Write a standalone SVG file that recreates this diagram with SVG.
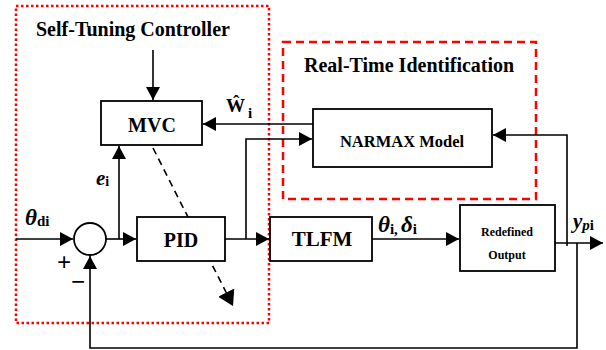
<svg xmlns="http://www.w3.org/2000/svg" width="606" height="350" viewBox="0 0 606 350">
<style>
.blk{fill:#fff;stroke:#000;stroke-width:1.8}
.ln{fill:none;stroke:#000;stroke-width:1.6}
.t{font-family:"Liberation Serif","Times New Roman",serif;font-weight:bold;fill:#000}
.it{font-family:"Liberation Serif","Times New Roman",serif;font-weight:bold;font-style:italic;fill:#000}
</style>
<defs>
<marker id="ah" viewBox="0 0 13 14" refX="13" refY="7" markerWidth="13" markerHeight="14" orient="auto" markerUnits="userSpaceOnUse"><path d="M0,0 L13,7 L0,14 z" fill="#000"/></marker>
<marker id="ah2" viewBox="0 0 15 18" refX="15" refY="9" markerWidth="15" markerHeight="18" orient="auto" markerUnits="userSpaceOnUse"><path d="M0,0 L15,9 L0,18 z" fill="#000"/></marker>
</defs>
<rect width="606" height="350" fill="#fff"/>
<g id="stc-region">
<rect x="16" y="6" width="253" height="317" fill="none" stroke="#f00" stroke-width="2.5" stroke-dasharray="2.5,2.5"/>
<text class="t" x="36" y="36" font-size="20">Self-Tuning Controller</text>
</g>
<g id="rti-region">
<rect x="283" y="42" width="253" height="157" fill="none" stroke="#f00" stroke-width="2.5" stroke-dasharray="8,5"/>
<text class="t" x="304" y="72" font-size="20">Real-Time Identification</text>
</g>
<g id="connectors">
<path class="ln" d="M153,50 V100" marker-end="url(#ah)"/>
<path class="ln" d="M313,124 H203" marker-end="url(#ah)"/>
<path class="ln" d="M246,239 V139 H312" marker-end="url(#ah)"/>
<path class="ln" d="M567,246 V135 H493" marker-end="url(#ah)"/>
<path class="ln" d="M16,239 H73" marker-end="url(#ah)"/>
<path class="ln" d="M106,239 H136" marker-end="url(#ah)"/>
<path class="ln" d="M119,239 V146" marker-end="url(#ah)"/>
<path class="ln" d="M225,239 H269" marker-end="url(#ah)"/>
<path class="ln" d="M372,239 H459" marker-end="url(#ah)"/>
<path class="ln" d="M555,243 H603" marker-end="url(#ah)"/>
<path class="ln" d="M577,243 V348 H90 V256" marker-end="url(#ah)"/>
<path class="ln" d="M153,148 L233,306" stroke-dasharray="7,5" marker-end="url(#ah2)"/>
</g>
<g id="mvc">
<rect class="blk" x="101" y="101" width="101" height="44"/>
<text class="t" x="152" y="132" font-size="20" text-anchor="middle">MVC</text>
</g>
<g id="narmax">
<rect class="blk" x="313" y="109" width="179" height="58"/>
<text class="t" x="402" y="147" font-size="16.5" text-anchor="middle">NARMAX Model</text>
</g>
<g id="sum">
<circle cx="90" cy="239" r="16" fill="#fff" stroke="#000" stroke-width="1.8"/>
<text class="t" x="64" y="271" font-size="25" text-anchor="middle">+</text>
<text class="t" x="78" y="290" font-size="25" text-anchor="middle">−</text>
</g>
<g id="pid">
<rect class="blk" x="137" y="217" width="88" height="44"/>
<text class="t" x="181" y="247" font-size="20" text-anchor="middle">PID</text>
</g>
<g id="tlfm">
<rect class="blk" x="270" y="217" width="102" height="44"/>
<text class="t" x="322" y="246" font-size="21" text-anchor="middle">TLFM</text>
</g>
<g id="redefined">
<rect class="blk" x="460" y="205" width="95" height="66"/>
<text class="t" x="507" y="236" font-size="12" text-anchor="middle">Redefined</text>
<text class="t" x="507" y="259" font-size="12" text-anchor="middle">Output</text>
</g>
<g id="labels">
<text x="25" y="225"><tspan class="it" font-size="23">θ</tspan><tspan class="t" font-size="15" dy="1">di</tspan></text>
<text x="96" y="185"><tspan class="it" font-size="21">e</tspan><tspan class="t" font-size="14" dy="1">i</tspan></text>
<text x="226" y="112"><tspan class="t" font-size="19">Ŵ</tspan><tspan class="t" font-size="15" dx="3" dy="6">i</tspan></text>
<text x="378" y="232"><tspan class="it" font-size="23">θ</tspan><tspan class="t" font-size="15" dy="2">i,</tspan><tspan class="it" font-size="23" dx="3" dy="-2">δ</tspan><tspan class="t" font-size="15" dy="2">i</tspan></text>
<text x="573" y="228"><tspan class="it" font-size="21">y</tspan><tspan class="it" font-size="15" dy="2">p</tspan><tspan class="t" font-size="15">i</tspan></text>
</g>
</svg>
